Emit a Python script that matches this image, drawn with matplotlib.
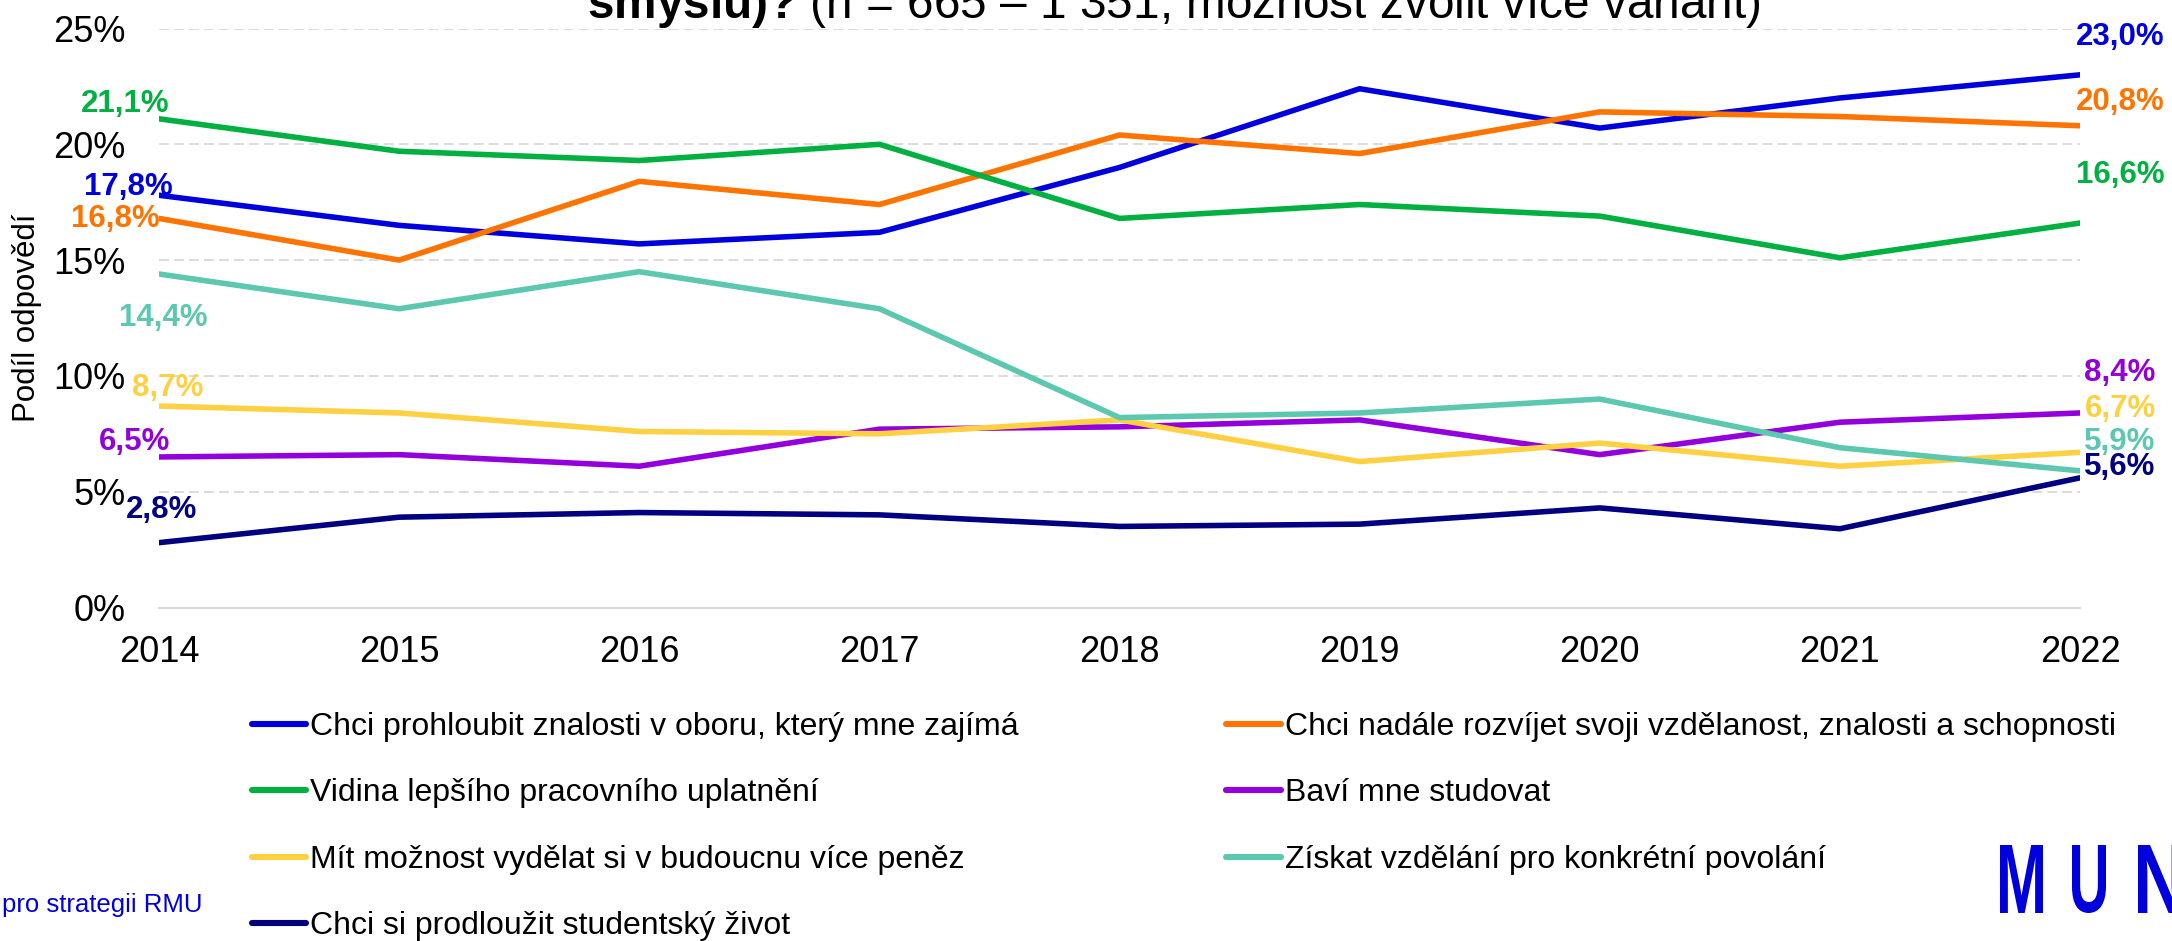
import matplotlib
matplotlib.use("Agg")
import matplotlib.pyplot as plt
from matplotlib.lines import Line2D
from matplotlib.textpath import TextPath
from matplotlib.patches import PathPatch
from matplotlib.font_manager import FontProperties
from matplotlib.transforms import Affine2D

plt.rcParams['font.family'] = ['Liberation Sans', 'DejaVu Sans']
plt.rcParams['mathtext.fontset'] = 'custom'
plt.rcParams['mathtext.rm'] = 'Liberation Sans'
plt.rcParams['mathtext.bf'] = 'Liberation Sans:bold'

years = [2014, 2015, 2016, 2017, 2018, 2019, 2020, 2021, 2022]

prohloubit = [17.8, 16.5, 15.7, 16.2, 19.0, 22.4, 20.7, 22.0, 23.0]
rozvijet = [16.8, 15.0, 18.4, 17.4, 20.4, 19.6, 21.4, 21.2, 20.8]
uplatneni = [21.1, 19.7, 19.3, 20.0, 16.8, 17.4, 16.9, 15.1, 16.6]
bavi = [6.5, 6.6, 6.1, 7.7, 7.8, 8.1, 6.6, 8.0, 8.4]
penize = [8.7, 8.4, 7.6, 7.5, 8.1, 6.3, 7.1, 6.1, 6.7]
povolani = [14.4, 12.9, 14.5, 12.9, 8.2, 8.4, 9.0, 6.9, 5.9]
prodlouzit = [2.8, 3.9, 4.1, 4.0, 3.5, 3.6, 4.3, 3.4, 5.6]

names = [
    "Chci prohloubit znalosti v oboru, který mne zajímá",
    "Chci nadále rozvíjet svoji vzdělanost, znalosti a schopnosti",
    "Vidina lepšího pracovního uplatnění",
    "Baví mne studovat",
    "Mít možnost vydělat si v budoucnu více peněz",
    "Získat vzdělání pro konkrétní povolání",
    "Chci si prodloužit studentský život",
]
series = [prohloubit, rozvijet, uplatneni, bavi, penize, povolani, prodlouzit]
colors = ["#0000DC", "#FF7300", "#00B041", "#9400DC", "#FFD042", "#5CC8AF", "#000080"]

# label offsets in pixels (start label right edge, end label centre)
start_off = [(14, 8), (1, -1), (11, 15), (11, 15), (44, 18), (49, -44), (38, 33)]
end_off = [(40, 38), (40, 24), (40, 48), (40, 40), (40, 43), (40, 29), (40, 11)]

W, H = 2172, 941
fig = plt.figure(figsize=(W / 100, H / 100), dpi=100)
ax = fig.add_axes([159 / W, 1 - 607.5 / H, (2080 - 159) / W, (607.5 - 28.5) / H])

for vals, col in zip(series, colors):
    ax.plot(years, vals, color=col, lw=4.0, solid_capstyle='round', zorder=3)

for vals, col, so, eo in zip(series, colors, start_off, end_off):
    ax.annotate(f"{vals[0]:.1f}%".replace('.', ','), (years[0], vals[0]),
                xytext=so, textcoords='offset pixels', ha='right', va='center',
                color=col, fontsize=22.5, fontweight='bold', annotation_clip=False)
    ax.annotate(f"{vals[-1]:.1f}%".replace('.', ','), (years[-1], vals[-1]),
                xytext=eo, textcoords='offset pixels', ha='center', va='center',
                color=col, fontsize=22.5, fontweight='bold', annotation_clip=False)

ax.set_xlim(2014, 2022)
ax.set_ylim(0, 25)
ax.set_xticks(years)
ax.set_yticks([0, 5, 10, 15, 20, 25])
ax.set_yticklabels([f"{t}%" for t in [0, 5, 10, 15, 20, 25]])
ax.tick_params(axis='both', length=0, labelsize=26)
ax.tick_params(axis='y', pad=24)
ax.tick_params(axis='x', pad=20)
for s in ['top', 'right', 'left']:
    ax.spines[s].set_visible(False)
ax.spines['bottom'].set_color('#D9D9D9')
ax.spines['bottom'].set_linewidth(1.5)
ax.yaxis.grid(True, color='#D9D9D9', lw=1.3, linestyle=(0, (5.5, 2.8)))
ax.set_axisbelow(True)

fig.text(27 / W, 1 - 318 / H, "Podíl odpovědí", rotation=90, ha='center', va='center', fontsize=22.5)

fig.text(1174 / W, 1 - 18 / H,
         r"$\mathbf{smyslu)?}$ (n = 665 – 1 351, možnost zvolit více variant)",
         ha='center', va='baseline', fontsize=34.4)

order = [0, 2, 4, 6, 1, 3, 5]
handles = [Line2D([], [], color=colors[i], lw=4.4, solid_capstyle='round') for i in order]
labels = [names[i] for i in order]
fig.legend(handles, labels, ncol=2, loc='upper left', bbox_to_anchor=(252 / W, 1 - 712 / H),
           frameon=False, fontsize=23.0, handlelength=1.7, handletextpad=0.12,
           columnspacing=6.5, labelspacing=1.14, borderpad=0, borderaxespad=0)

fig.text(202 / W, 1 - 905 / H, "pro strategii RMU", ha='right', va='center', fontsize=18.5, color='#0000DC')

# MUNI logo: each letter fitted into its box (x0, x1) with top 845, bottom 913
fp = FontProperties(family='Liberation Sans', weight='bold')
for ch, x0, x1 in zip("MUNI", [2000, 2072, 2138, 2210], [2043, 2106, 2181, 2220]):
    tp = TextPath((0, 0), ch, size=100, prop=fp)
    ext = tp.get_extents()
    sx = (x1 - x0) / ext.width
    sy = (913 - 845) / ext.height
    tr = (Affine2D().translate(-ext.x0, -ext.y0).scale(sx, sy)
          .translate(x0, H - 913).scale(1 / W, 1 / H) + fig.transFigure)
    fig.add_artist(PathPatch(tp, transform=tr, color='#0000DC', lw=0))

fig.savefig("out.png", dpi=100)
